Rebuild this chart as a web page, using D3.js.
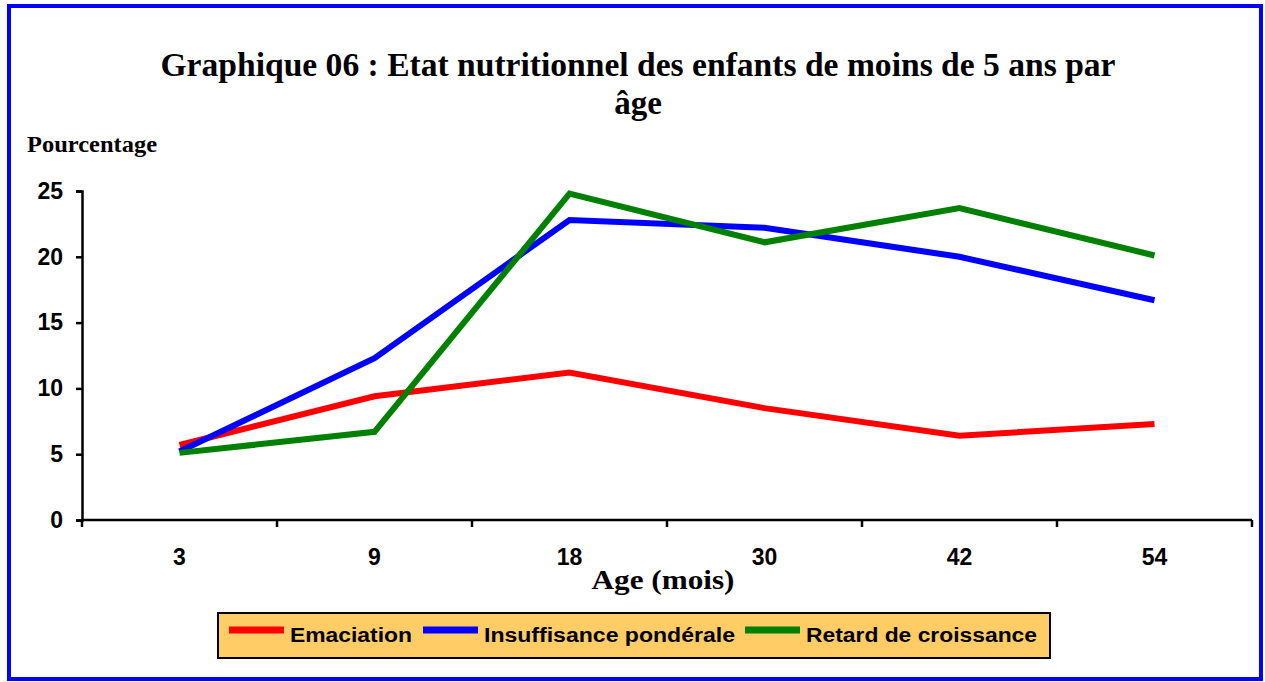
<!DOCTYPE html>
<html>
<head>
<meta charset="utf-8">
<script src="https://cdn.jsdelivr.net/npm/d3@7"></script>
<style>
  body { margin: 0; background: #fff; }
  svg { display: block; }
</style>
</head>
<body>
<svg width="1265" height="682"></svg>
<script>
// data
var ages = ["3", "9", "18", "30", "42", "54"];
var emaciation = [5.7, 9.4, 11.2, 8.5, 6.4, 7.3];
var insuffisance = [5.2, 12.3, 22.8, 22.2, 20.0, 16.7];
var retard = [5.1, 6.7, 24.8, 21.1, 23.7, 20.1];
var yTicks = [0, 5, 10, 15, 20, 25];
var seriesNames = ["Emaciation", "Insuffisance pondérale", "Retard de croissance"];
var seriesColors = ["#ff0000", "#0000ff", "#008000"];

(function() {
    var series = [emaciation, insuffisance, retard].map(function(v, i) {
        return {name: seriesNames[i], color: seriesColors[i], values: v};
    });

    var svg = d3.select("svg");

    // blue frame
    svg.append("rect")
        .attr("x", 9).attr("y", 6)
        .attr("width", 1252).attr("height", 673)
        .attr("fill", "none")
        .attr("stroke", "#0000ff")
        .attr("stroke-width", 4);

    var serif = "'Liberation Serif', 'Times New Roman', serif",
        sans = "'Liberation Sans', Arial, sans-serif";

    svg.append("text")
        .attr("x", 638).attr("y", 76)
        .attr("text-anchor", "middle")
        .attr("textLength", 955)
        .attr("lengthAdjust", "spacingAndGlyphs")
        .style("font", "bold 33px " + serif)
        .text("Graphique 06 : Etat nutritionnel des enfants de moins de 5 ans par");
    svg.append("text")
        .attr("x", 638).attr("y", 114)
        .attr("text-anchor", "middle")
        .style("font", "bold 33px " + serif)
        .text("âge");

    svg.append("text")
        .attr("x", 27).attr("y", 152)
        .attr("textLength", 130)
        .attr("lengthAdjust", "spacingAndGlyphs")
        .style("font", "bold 23px " + serif)
        .text("Pourcentage");

    var left = 82, right = 1252, plotTop = 191, bottom = 520;

    var x = d3.scaleBand().domain(ages).range([left, right]);
    var y = d3.scaleLinear().domain([0, 25]).range([bottom, plotTop]);

    var yAxis = svg.append("g")
        .attr("transform", "translate(" + left + ",0)")
        .call(d3.axisLeft(y).tickValues(yTicks).tickSize(6).tickPadding(13));

    var xAxis = svg.append("g")
        .attr("transform", "translate(0," + bottom + ")")
        .call(d3.axisBottom(x).tickSize(0).tickPadding(29));

    [yAxis, xAxis].forEach(function(g) {
        g.select(".domain").attr("stroke", "#000").attr("stroke-width", 2.5);
        g.selectAll(".tick line").attr("stroke", "#000").attr("stroke-width", 2.5);
        g.selectAll("text")
            .attr("fill", "#000")
            .style("font", "bold 23px " + sans);
    });
    xAxis.select(".domain").attr("d", "M" + left + ",0H" + right);

    // x tick marks between categories
    xAxis.selectAll(".sep")
        .data(ages.concat(["end"]))
        .enter().append("line")
            .attr("class", "sep")
            .attr("x1", function(d, i) { return i < ages.length ? x(d) : right; })
            .attr("x2", function(d, i) { return i < ages.length ? x(d) : right; })
            .attr("y1", 0).attr("y2", 7)
            .attr("stroke", "#000").attr("stroke-width", 2.5);

    svg.append("text")
        .attr("x", 663).attr("y", 589)
        .attr("text-anchor", "middle")
        .attr("textLength", 143)
        .attr("lengthAdjust", "spacingAndGlyphs")
        .style("font", "bold 27px " + serif)
        .text("Age (mois)");

    var line = d3.line()
        .x(function(d, i) { return x(ages[i]) + x.bandwidth() / 2; })
        .y(function(d) { return y(d); });

    svg.selectAll(".serie")
        .data(series)
        .enter().append("path")
            .attr("class", "serie")
            .attr("d", function(d) { return line(d.values); })
            .attr("fill", "none")
            .attr("stroke", function(d) { return d.color; })
            .attr("stroke-width", 6);

    // legend
    var legend = svg.append("g");
    legend.append("rect")
        .attr("x", 218).attr("y", 613)
        .attr("width", 832).attr("height", 45)
        .attr("fill", "#ffcc66")
        .attr("stroke", "#000")
        .attr("stroke-width", 2);

    var swatchX = [229, 423, 745], textX = [290, 484, 806], textW = [122, 251, 231];
    series.forEach(function(s, i) {
        legend.append("line")
            .attr("x1", swatchX[i]).attr("x2", swatchX[i] + 55)
            .attr("y1", 630).attr("y2", 630)
            .attr("stroke", s.color).attr("stroke-width", 7);
        legend.append("text")
            .attr("x", textX[i]).attr("y", 642)
            .attr("textLength", textW[i])
            .attr("lengthAdjust", "spacingAndGlyphs")
            .style("font", "bold 20px " + sans)
            .text(s.name);
    });
})();
</script>
</body>
</html>
